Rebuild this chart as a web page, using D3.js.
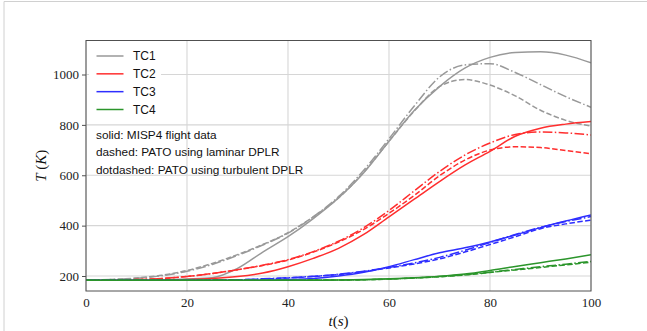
<!DOCTYPE html>
<html>
<head>
<meta charset="utf-8">
<script src="https://cdn.jsdelivr.net/npm/d3@7"></script>
<style>
html,body{margin:0;padding:0;background:#fff;}
svg{display:block;}
</style>
</head>
<body>
<script>
// ---- data ----
const time = [0,5,10,15,20,25,30,35,40,45,50,55,60,65,70,75,80,85,90,95,100];
const tc1Solid   = [183,183,184,185,188,193,230,295,356,428,510,610,735,857,952,1025,1068,1087,1090,1077,1046];
const tc1Dashed  = [184,186,192,203,222,250,285,325,372,435,510,612,735,855,952,980,958,915,858,818,795];
const tc1DashDot = [184,186,191,201,219,246,282,323,370,435,515,620,745,875,990,1038,1043,1008,960,912,870];
const tc2Solid   = [183,183,183,184,186,190,198,212,237,270,310,365,435,505,575,640,695,755,787,803,813];
const tc2Dashed  = [183,184,186,190,198,210,225,242,263,295,335,385,449,520,598,660,700,713,710,698,685];
const tc2DashDot = [183,184,186,190,198,210,225,243,265,297,338,392,460,538,615,680,728,762,772,768,760];
const tc3Solid   = [183,183,183,183,183,183,183,184,186,190,200,215,237,265,292,312,335,363,392,418,442];
const tc3Dashed  = [183,183,183,183,183,184,185,188,192,198,206,218,232,248,268,295,325,356,388,407,422];
const tc3DashDot = [183,183,183,183,183,184,185,189,193,199,207,219,234,252,274,302,333,365,393,416,436];
const tc4Solid   = [183,183,183,183,183,183,183,183,183,183,184,186,189,193,199,208,222,238,253,268,284];
const tc4Dashed  = [183,183,183,183,183,183,183,183,183,184,184,185,188,192,197,204,214,224,234,244,255];
const tc4DashDot = [183,183,183,183,183,183,183,183,183,184,184,185,188,192,198,205,215,226,237,247,258];
const xTicks = [0,20,40,60,80,100];
const yTicks = [200,400,600,800,1000];
const legendNames = ["TC1","TC2","TC3","TC4"];
const notes = ["solid: MISP4 flight data","dashed: PATO using laminar DPLR","dotdashed: PATO using turbulent DPLR"];

const colors = {TC1:"#999999",TC2:"#ff2e2e",TC3:"#2e2eff",TC4:"#2b952b"};
const dashes = {solid:null,dashed:"5.5,2.4",dashdot:"9.6,2.4,1.5,2.4"};
const series = [
  {tc:"TC1",style:"solid",v:tc1Solid},{tc:"TC1",style:"dashed",v:tc1Dashed},{tc:"TC1",style:"dashdot",v:tc1DashDot},
  {tc:"TC2",style:"solid",v:tc2Solid},{tc:"TC2",style:"dashed",v:tc2Dashed},{tc:"TC2",style:"dashdot",v:tc2DashDot},
  {tc:"TC3",style:"solid",v:tc3Solid},{tc:"TC3",style:"dashed",v:tc3Dashed},{tc:"TC3",style:"dashdot",v:tc3DashDot},
  {tc:"TC4",style:"solid",v:tc4Solid},{tc:"TC4",style:"dashed",v:tc4Dashed},{tc:"TC4",style:"dashdot",v:tc4DashDot}
];

const W=647,H=331;
const L=86,R=591,T=40.5,B=291;
const svg=d3.select("body").append("svg").attr("width",W).attr("height",H);

// outer frame
svg.append("path").attr("d",`M4,${H} L4,1.5 L${W},1.5`).attr("fill","none").attr("stroke","#d0d0d0").attr("stroke-width",1);

const x=d3.scaleLinear().domain([0,100]).range([L,R]);
const y=d3.scaleLinear().domain([140.5,1135]).range([B,T]);

// grid
const g=svg.append("g");
g.selectAll(".vg").data(xTicks).join("line")
 .attr("x1",d=>x(d)).attr("x2",d=>x(d)).attr("y1",T).attr("y2",B)
 .attr("stroke","#d6d6d6").attr("stroke-width",1.1);
g.selectAll(".hg").data(yTicks).join("line")
 .attr("x1",L).attr("x2",R).attr("y1",d=>y(d)).attr("y2",d=>y(d))
 .attr("stroke","#d6d6d6").attr("stroke-width",1.1);

// curves
svg.append("clipPath").attr("id","c").append("rect").attr("x",L).attr("y",T).attr("width",R-L).attr("height",B-T);
const line=d3.line().x((d,i)=>x(time[i])).y(d=>y(d)).curve(d3.curveMonotoneX);
svg.append("g").attr("clip-path","url(#c)").selectAll("path").data(series).join("path")
 .attr("d",d=>line(d.v)).attr("fill","none")
 .attr("stroke",d=>colors[d.tc]).attr("stroke-width",1.5)
 .attr("stroke-dasharray",d=>dashes[d.style]);

// spines
svg.append("rect").attr("x",L).attr("y",T).attr("width",R-L).attr("height",B-T)
 .attr("fill","none").attr("stroke","#505050").attr("stroke-width",1);

// y axis
const yAxis=d3.axisLeft(y).tickValues(yTicks).tickFormat(d3.format("d")).tickSize(4).tickPadding(3);
const ya=svg.append("g").attr("transform",`translate(${L},0)`).call(yAxis);
ya.select(".domain").remove();
ya.selectAll("line").attr("stroke","#505050");
ya.selectAll("text").attr("font-family","'Liberation Serif',serif").attr("font-size",13).attr("fill","#222");

// x axis
const xAxis=d3.axisBottom(x).tickValues(xTicks).tickFormat(d3.format("d")).tickSize(0).tickPadding(7);
const xa=svg.append("g").attr("transform",`translate(0,${B})`).call(xAxis);
xa.select(".domain").remove();
xa.selectAll("text").attr("font-family","'Liberation Serif',serif").attr("font-size",13).attr("fill","#222");

// axis labels
const xl=svg.append("text").attr("x",(L+R)/2).attr("y",326).attr("text-anchor","middle")
 .attr("font-family","'Liberation Serif',serif").attr("font-size",15).attr("fill","#111");
xl.append("tspan").attr("font-style","italic").text("t");
xl.append("tspan").text("(");
xl.append("tspan").attr("font-style","italic").text("s");
xl.append("tspan").text(")");
const yl=svg.append("text").attr("transform",`translate(46,${(T+B)/2}) rotate(-90)`).attr("text-anchor","middle")
 .attr("font-family","'Liberation Serif',serif").attr("font-size",15).attr("fill","#111");
yl.append("tspan").attr("font-style","italic").text("T");
yl.append("tspan").text(" (");
yl.append("tspan").attr("font-style","italic").text("K");
yl.append("tspan").text(")");

// legend
svg.append("rect").attr("x",89).attr("y",44).attr("width",72).attr("height",74).attr("fill","#fff");
const lg=svg.append("g");
const ly=d3.scalePoint().domain(legendNames).range([56,109.5]);
lg.selectAll("line").data(legendNames).join("line")
 .attr("x1",96.5).attr("x2",123.5).attr("y1",d=>ly(d)).attr("y2",d=>ly(d))
 .attr("stroke",d=>colors[d]).attr("stroke-width",1.5);
lg.selectAll("text").data(legendNames).join("text")
 .attr("x",133).attr("y",d=>ly(d)).attr("dy","0.36em")
 .attr("font-family","'Liberation Sans',Arial,sans-serif").attr("font-size",12).attr("fill","#111").text(d=>d);

const ny=d3.scalePoint().domain(notes).range([135,169.5]);
svg.append("g").selectAll("text").data(notes).join("text")
 .attr("x",96).attr("y",d=>ny(d)).attr("dy","0.36em")
 .attr("font-family","'Liberation Sans',Arial,sans-serif").attr("font-size",11.8).attr("fill","#111").text(d=>d);
</script>
</body>
</html>
